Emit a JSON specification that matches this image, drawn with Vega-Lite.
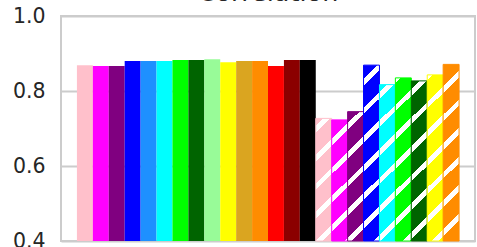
{
  "$schema": "https://vega.github.io/schema/vega-lite/v6.json",
  "width": 414,
  "height": 225,
  "autosize": {"type": "none"},
  "padding": {"left": 61, "top": 16, "right": 2, "bottom": 6},
  "background": "white",
  "title": {"text": "Correlation", "fontSize": 25.5, "font": "DejaVu Sans", "fontWeight": "normal", "color": "#262626", "baseline": "alphabetic", "offset": -20},
  "config": {"view": {"stroke": "#cccccc", "strokeWidth": 2}},
  "data": {"values": [
    {"i": 0, "name": "pink", "v": 0.869},
    {"i": 1, "name": "magenta", "v": 0.867},
    {"i": 2, "name": "purple", "v": 0.867},
    {"i": 3, "name": "blue", "v": 0.880},
    {"i": 4, "name": "dodgerblue", "v": 0.880},
    {"i": 5, "name": "cyan", "v": 0.880},
    {"i": 6, "name": "lime", "v": 0.883},
    {"i": 7, "name": "darkgreen", "v": 0.883},
    {"i": 8, "name": "palegreen", "v": 0.885},
    {"i": 9, "name": "yellow", "v": 0.877},
    {"i": 10, "name": "goldenrod", "v": 0.880},
    {"i": 11, "name": "darkorange", "v": 0.880},
    {"i": 12, "name": "red", "v": 0.867},
    {"i": 13, "name": "darkred", "v": 0.883},
    {"i": 14, "name": "black", "v": 0.883},
    {"i": 15, "name": "pink", "v": 0.727},
    {"i": 16, "name": "magenta", "v": 0.723},
    {"i": 17, "name": "purple", "v": 0.745},
    {"i": 18, "name": "blue", "v": 0.869},
    {"i": 19, "name": "cyan", "v": 0.817},
    {"i": 20, "name": "lime", "v": 0.835},
    {"i": 21, "name": "darkgreen", "v": 0.827},
    {"i": 22, "name": "yellow", "v": 0.843},
    {"i": 23, "name": "darkorange", "v": 0.871}
  ]},
  "mark": {"type": "bar"},
  "encoding": {
    "x": {"field": "i", "type": "ordinal", "axis": null,
          "scale": {"domain": [0,1,2,3,4,5,6,7,8,9,10,11,12,13,14,15,16,17,18,19,20,21,22,23], "paddingInner": 0, "paddingOuter": 1.18}},
    "y": {"field": "v", "type": "quantitative",
          "scale": {"domain": [0.4, 1.0], "zero": false, "nice": false},
          "axis": {"values": [0.4, 0.6, 0.8, 1.0], "format": ".1f", "title": null, "domain": false, "ticks": false,
                   "labelPadding": 16, "labelFontSize": 20.5, "labelColor": "#262626", "labelFont": "DejaVu Sans",
                   "grid": true, "gridColor": "#cccccc", "gridWidth": 2}},
    "y2": {"datum": 0.4},
    "stroke": {"field": "name", "type": "nominal", "legend": null,
               "scale": {"domain": ["pink","magenta","purple","blue","dodgerblue","cyan","lime","darkgreen","palegreen","yellow","goldenrod","darkorange","red","darkred","black"],
                         "range": ["#ffc0cb","#ff00ff","#800080","#0000ff","#1e90ff","#00ffff","#00ff00","#006400","#98fb98","#ffff00","#daa520","#ff8c00","#ff0000","#8b0000","#000000"]}},
    "strokeWidth": {"condition": {"test": "datum.i >= 15", "value": 1}, "value": 0},
    "fill": {"field": "name", "type": "nominal", "legend": null,
             "scale": {"domain": ["pink","magenta","purple","blue","dodgerblue","cyan","lime","darkgreen","palegreen","yellow","goldenrod","darkorange","red","darkred","black"],
                       "range": ["#ffc0cb","#ff00ff","#800080","#0000ff","#1e90ff","#00ffff","#00ff00","#006400","#98fb98","#ffff00","#daa520","#ff8c00","#ff0000","#8b0000","#000000"]},
             "condition": [
               {"test": "datum.i === 15", "value": {"gradient": "linear", "x1": 0, "y1": 0, "x2": 0.14215, "y2": 1.10987, "stops": [
                 {"offset": 0, "color": "#ffc0cb"}, {"offset": 0.0557, "color": "#ffc0cb"}, {"offset": 0.0557, "color": "#ffffff"}, {"offset": 0.1041, "color": "#ffffff"}, {"offset": 0.1041, "color": "#ffc0cb"},
                 {"offset": 0.2625, "color": "#ffc0cb"}, {"offset": 0.2625, "color": "#ffffff"}, {"offset": 0.3109, "color": "#ffffff"}, {"offset": 0.3109, "color": "#ffc0cb"},
                 {"offset": 0.4692, "color": "#ffc0cb"}, {"offset": 0.4692, "color": "#ffffff"}, {"offset": 0.5176, "color": "#ffffff"}, {"offset": 0.5176, "color": "#ffc0cb"},
                 {"offset": 0.676, "color": "#ffc0cb"}, {"offset": 0.676, "color": "#ffffff"}, {"offset": 0.7244, "color": "#ffffff"}, {"offset": 0.7244, "color": "#ffc0cb"},
                 {"offset": 0.8827, "color": "#ffc0cb"}, {"offset": 0.8827, "color": "#ffffff"}, {"offset": 0.9311, "color": "#ffffff"}, {"offset": 0.9311, "color": "#ffc0cb"}, {"offset": 1, "color": "#ffc0cb"}]}},
               {"test": "datum.i === 16", "value": {"gradient": "linear", "x1": 0, "y1": 0, "x2": 0.14406, "y2": 1.11098, "stops": [
                 {"offset": 0, "color": "#ff00ff"}, {"offset": 0.1396, "color": "#ff00ff"}, {"offset": 0.1396, "color": "#ffffff"}, {"offset": 0.1885, "color": "#ffffff"}, {"offset": 0.1885, "color": "#ff00ff"},
                 {"offset": 0.3486, "color": "#ff00ff"}, {"offset": 0.3486, "color": "#ffffff"}, {"offset": 0.3975, "color": "#ffffff"}, {"offset": 0.3975, "color": "#ff00ff"},
                 {"offset": 0.5576, "color": "#ff00ff"}, {"offset": 0.5576, "color": "#ffffff"}, {"offset": 0.6066, "color": "#ffffff"}, {"offset": 0.6066, "color": "#ff00ff"},
                 {"offset": 0.7666, "color": "#ff00ff"}, {"offset": 0.7666, "color": "#ffffff"}, {"offset": 0.8156, "color": "#ffffff"}, {"offset": 0.8156, "color": "#ff00ff"},
                 {"offset": 0.9756, "color": "#ff00ff"}, {"offset": 0.9756, "color": "#ffffff"}, {"offset": 1, "color": "#ffffff"}]}},
               {"test": "datum.i === 17", "value": {"gradient": "linear", "x1": 0, "y1": 0, "x2": 0.13416, "y2": 1.10511, "stops": [
                 {"offset": 0, "color": "#800080"}, {"offset": 0.0803, "color": "#800080"}, {"offset": 0.0803, "color": "#ffffff"}, {"offset": 0.1265, "color": "#ffffff"}, {"offset": 0.1265, "color": "#800080"},
                 {"offset": 0.2774, "color": "#800080"}, {"offset": 0.2774, "color": "#ffffff"}, {"offset": 0.3236, "color": "#ffffff"}, {"offset": 0.3236, "color": "#800080"},
                 {"offset": 0.4745, "color": "#800080"}, {"offset": 0.4745, "color": "#ffffff"}, {"offset": 0.5207, "color": "#ffffff"}, {"offset": 0.5207, "color": "#800080"},
                 {"offset": 0.6717, "color": "#800080"}, {"offset": 0.6717, "color": "#ffffff"}, {"offset": 0.7178, "color": "#ffffff"}, {"offset": 0.7178, "color": "#800080"},
                 {"offset": 0.8688, "color": "#800080"}, {"offset": 0.8688, "color": "#ffffff"}, {"offset": 0.915, "color": "#ffffff"}, {"offset": 0.915, "color": "#800080"}, {"offset": 1, "color": "#800080"}]}},
               {"test": "datum.i === 18", "value": {"gradient": "linear", "x1": 0, "y1": 0, "x2": 0.09651, "y2": 1.08068, "stops": [
                 {"offset": 0, "color": "#0000ff"}, {"offset": 0.0722, "color": "#0000ff"}, {"offset": 0.0722, "color": "#ffffff"}, {"offset": 0.1072, "color": "#ffffff"}, {"offset": 0.1072, "color": "#0000ff"},
                 {"offset": 0.2215, "color": "#0000ff"}, {"offset": 0.2215, "color": "#ffffff"}, {"offset": 0.2565, "color": "#ffffff"}, {"offset": 0.2565, "color": "#0000ff"},
                 {"offset": 0.3708, "color": "#0000ff"}, {"offset": 0.3708, "color": "#ffffff"}, {"offset": 0.4057, "color": "#ffffff"}, {"offset": 0.4057, "color": "#0000ff"},
                 {"offset": 0.5201, "color": "#0000ff"}, {"offset": 0.5201, "color": "#ffffff"}, {"offset": 0.555, "color": "#ffffff"}, {"offset": 0.555, "color": "#0000ff"},
                 {"offset": 0.6693, "color": "#0000ff"}, {"offset": 0.6693, "color": "#ffffff"}, {"offset": 0.7043, "color": "#ffffff"}, {"offset": 0.7043, "color": "#0000ff"},
                 {"offset": 0.8186, "color": "#0000ff"}, {"offset": 0.8186, "color": "#ffffff"}, {"offset": 0.8536, "color": "#ffffff"}, {"offset": 0.8536, "color": "#0000ff"},
                 {"offset": 0.9679, "color": "#0000ff"}, {"offset": 0.9679, "color": "#ffffff"}, {"offset": 1, "color": "#ffffff"}]}},
               {"test": "datum.i === 19", "value": {"gradient": "linear", "x1": 0, "y1": 0, "x2": 0.10942, "y2": 1.08946, "stops": [
                 {"offset": 0, "color": "#00ffff"}, {"offset": 0.042, "color": "#00ffff"}, {"offset": 0.042, "color": "#ffffff"}, {"offset": 0.081, "color": "#ffffff"}, {"offset": 0.081, "color": "#00ffff"},
                 {"offset": 0.2082, "color": "#00ffff"}, {"offset": 0.2082, "color": "#ffffff"}, {"offset": 0.2472, "color": "#ffffff"}, {"offset": 0.2472, "color": "#00ffff"},
                 {"offset": 0.3744, "color": "#00ffff"}, {"offset": 0.3744, "color": "#ffffff"}, {"offset": 0.4134, "color": "#ffffff"}, {"offset": 0.4134, "color": "#00ffff"},
                 {"offset": 0.5406, "color": "#00ffff"}, {"offset": 0.5406, "color": "#ffffff"}, {"offset": 0.5796, "color": "#ffffff"}, {"offset": 0.5796, "color": "#00ffff"},
                 {"offset": 0.7068, "color": "#00ffff"}, {"offset": 0.7068, "color": "#ffffff"}, {"offset": 0.7458, "color": "#ffffff"}, {"offset": 0.7458, "color": "#00ffff"},
                 {"offset": 0.873, "color": "#00ffff"}, {"offset": 0.873, "color": "#ffffff"}, {"offset": 0.912, "color": "#ffffff"}, {"offset": 0.912, "color": "#00ffff"}, {"offset": 1, "color": "#00ffff"}]}},
               {"test": "datum.i === 20", "value": {"gradient": "linear", "x1": 0, "y1": 0, "x2": 0.10458, "y2": 1.0862, "stops": [
                 {"offset": 0, "color": "#ffffff"}, {"offset": 0.0278, "color": "#ffffff"}, {"offset": 0.0278, "color": "#00ff00"},
                 {"offset": 0.1503, "color": "#00ff00"}, {"offset": 0.1503, "color": "#ffffff"}, {"offset": 0.1878, "color": "#ffffff"}, {"offset": 0.1878, "color": "#00ff00"},
                 {"offset": 0.3102, "color": "#00ff00"}, {"offset": 0.3102, "color": "#ffffff"}, {"offset": 0.3477, "color": "#ffffff"}, {"offset": 0.3477, "color": "#00ff00"},
                 {"offset": 0.4701, "color": "#00ff00"}, {"offset": 0.4701, "color": "#ffffff"}, {"offset": 0.5076, "color": "#ffffff"}, {"offset": 0.5076, "color": "#00ff00"},
                 {"offset": 0.6301, "color": "#00ff00"}, {"offset": 0.6301, "color": "#ffffff"}, {"offset": 0.6675, "color": "#ffffff"}, {"offset": 0.6675, "color": "#00ff00"},
                 {"offset": 0.79, "color": "#00ff00"}, {"offset": 0.79, "color": "#ffffff"}, {"offset": 0.8275, "color": "#ffffff"}, {"offset": 0.8275, "color": "#00ff00"},
                 {"offset": 0.9499, "color": "#00ff00"}, {"offset": 0.9499, "color": "#ffffff"}, {"offset": 0.9874, "color": "#ffffff"}, {"offset": 0.9874, "color": "#00ff00"}, {"offset": 1, "color": "#00ff00"}]}},
               {"test": "datum.i === 21", "value": {"gradient": "linear", "x1": 0, "y1": 0, "x2": 0.10668, "y2": 1.08762, "stops": [
                 {"offset": 0, "color": "#006400"}, {"offset": 0.0464, "color": "#006400"}, {"offset": 0.0464, "color": "#ffffff"}, {"offset": 0.0845, "color": "#ffffff"}, {"offset": 0.0845, "color": "#006400"},
                 {"offset": 0.2091, "color": "#006400"}, {"offset": 0.2091, "color": "#ffffff"}, {"offset": 0.2472, "color": "#ffffff"}, {"offset": 0.2472, "color": "#006400"},
                 {"offset": 0.3718, "color": "#006400"}, {"offset": 0.3718, "color": "#ffffff"}, {"offset": 0.4099, "color": "#ffffff"}, {"offset": 0.4099, "color": "#006400"},
                 {"offset": 0.5344, "color": "#006400"}, {"offset": 0.5344, "color": "#ffffff"}, {"offset": 0.5725, "color": "#ffffff"}, {"offset": 0.5725, "color": "#006400"},
                 {"offset": 0.6971, "color": "#006400"}, {"offset": 0.6971, "color": "#ffffff"}, {"offset": 0.7352, "color": "#ffffff"}, {"offset": 0.7352, "color": "#006400"},
                 {"offset": 0.8597, "color": "#006400"}, {"offset": 0.8597, "color": "#ffffff"}, {"offset": 0.8978, "color": "#ffffff"}, {"offset": 0.8978, "color": "#006400"}, {"offset": 1, "color": "#006400"}]}},
               {"test": "datum.i === 22", "value": {"gradient": "linear", "x1": 0, "y1": 0, "x2": 0.10257, "y2": 1.08485, "stops": [
                 {"offset": 0, "color": "#ffffff"}, {"offset": 0.0284, "color": "#ffffff"}, {"offset": 0.0284, "color": "#ffff00"},
                 {"offset": 0.1489, "color": "#ffff00"}, {"offset": 0.1489, "color": "#ffffff"}, {"offset": 0.1857, "color": "#ffffff"}, {"offset": 0.1857, "color": "#ffff00"},
                 {"offset": 0.3061, "color": "#ffff00"}, {"offset": 0.3061, "color": "#ffffff"}, {"offset": 0.343, "color": "#ffffff"}, {"offset": 0.343, "color": "#ffff00"},
                 {"offset": 0.4634, "color": "#ffff00"}, {"offset": 0.4634, "color": "#ffffff"}, {"offset": 0.5003, "color": "#ffffff"}, {"offset": 0.5003, "color": "#ffff00"},
                 {"offset": 0.6207, "color": "#ffff00"}, {"offset": 0.6207, "color": "#ffffff"}, {"offset": 0.6576, "color": "#ffffff"}, {"offset": 0.6576, "color": "#ffff00"},
                 {"offset": 0.778, "color": "#ffff00"}, {"offset": 0.778, "color": "#ffffff"}, {"offset": 0.8149, "color": "#ffffff"}, {"offset": 0.8149, "color": "#ffff00"},
                 {"offset": 0.9353, "color": "#ffff00"}, {"offset": 0.9353, "color": "#ffffff"}, {"offset": 0.9722, "color": "#ffffff"}, {"offset": 0.9722, "color": "#ffff00"}, {"offset": 1, "color": "#ffff00"}]}},
               {"test": "datum.i === 23", "value": {"gradient": "linear", "x1": 0, "y1": 0, "x2": 0.09607, "y2": 1.08038, "stops": [
                 {"offset": 0, "color": "#ff8c00"}, {"offset": 0.1136, "color": "#ff8c00"}, {"offset": 0.1136, "color": "#ffffff"}, {"offset": 0.1485, "color": "#ffffff"}, {"offset": 0.1485, "color": "#ff8c00"},
                 {"offset": 0.2623, "color": "#ff8c00"}, {"offset": 0.2623, "color": "#ffffff"}, {"offset": 0.2972, "color": "#ffffff"}, {"offset": 0.2972, "color": "#ff8c00"},
                 {"offset": 0.411, "color": "#ff8c00"}, {"offset": 0.411, "color": "#ffffff"}, {"offset": 0.4459, "color": "#ffffff"}, {"offset": 0.4459, "color": "#ff8c00"},
                 {"offset": 0.5597, "color": "#ff8c00"}, {"offset": 0.5597, "color": "#ffffff"}, {"offset": 0.5946, "color": "#ffffff"}, {"offset": 0.5946, "color": "#ff8c00"},
                 {"offset": 0.7084, "color": "#ff8c00"}, {"offset": 0.7084, "color": "#ffffff"}, {"offset": 0.7433, "color": "#ffffff"}, {"offset": 0.7433, "color": "#ff8c00"},
                 {"offset": 0.8571, "color": "#ff8c00"}, {"offset": 0.8571, "color": "#ffffff"}, {"offset": 0.892, "color": "#ffffff"}, {"offset": 0.892, "color": "#ff8c00"}, {"offset": 1, "color": "#ff8c00"}]}}
             ]}
  }
}
